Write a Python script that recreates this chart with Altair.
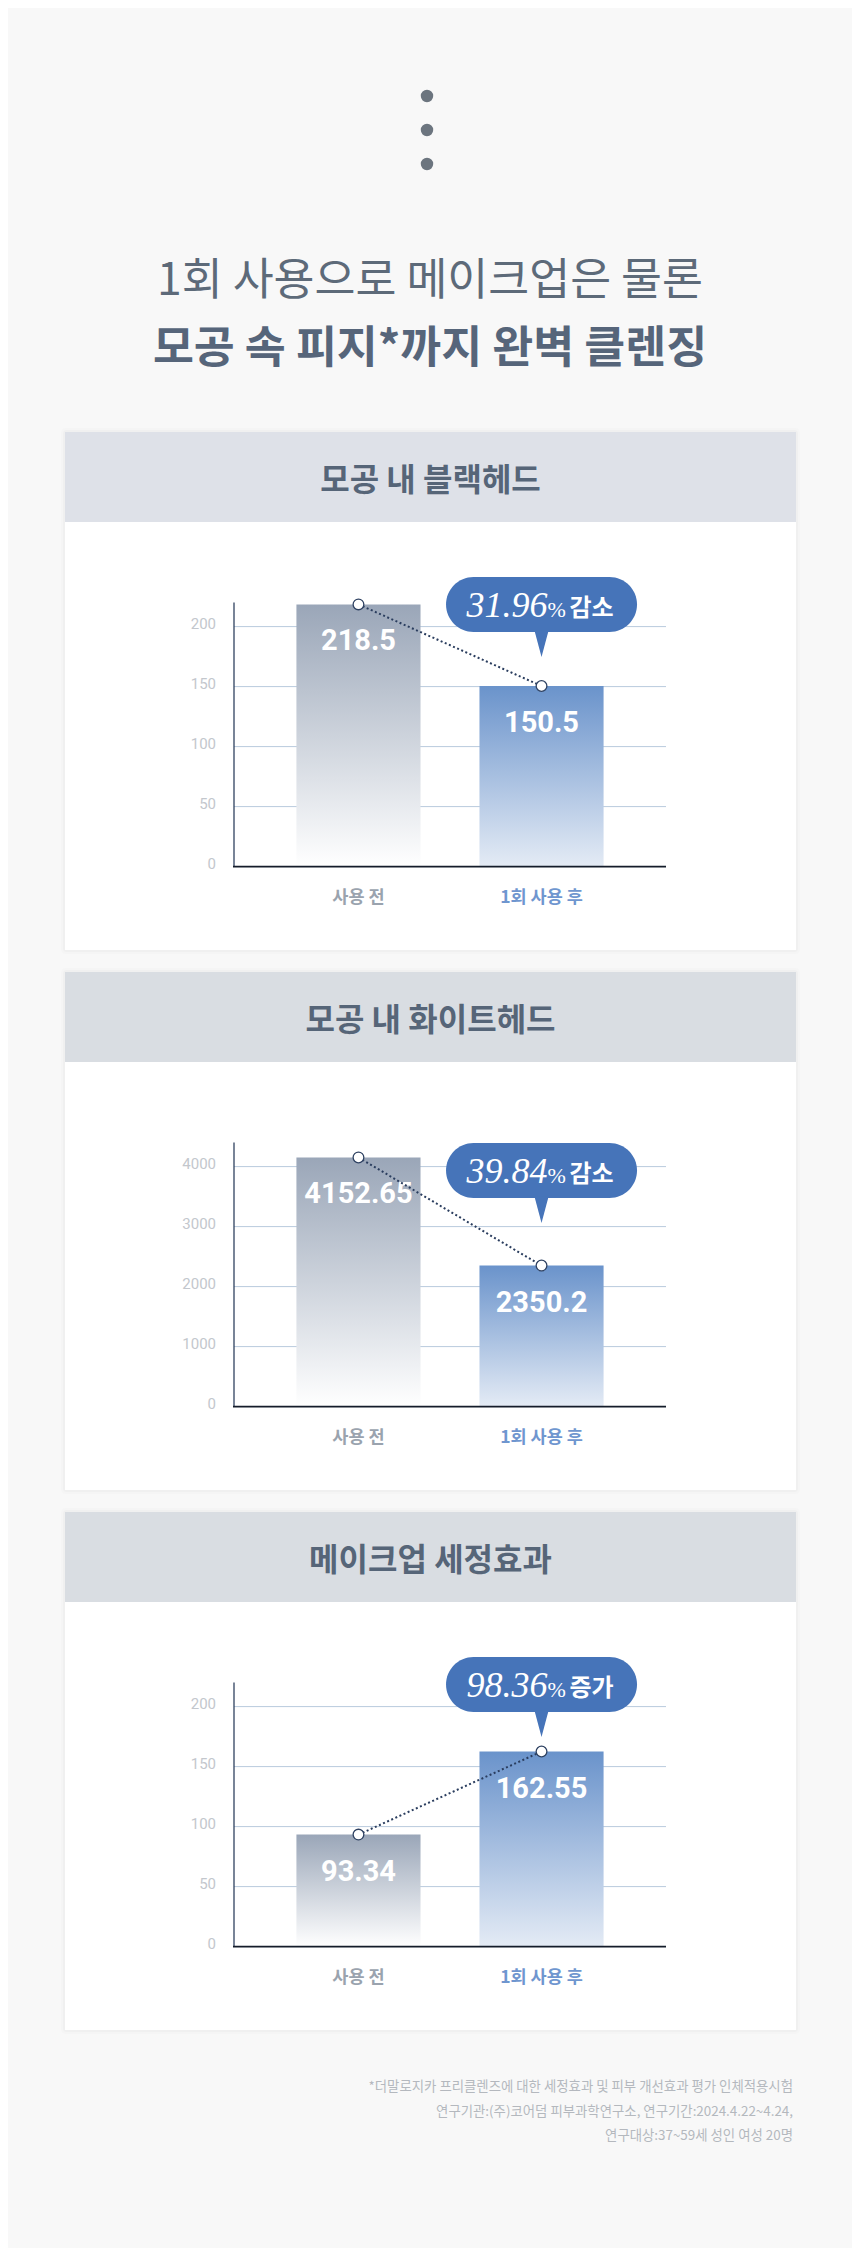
import altair as alt
import pandas as pd

# ---------------- data ----------------
stages = ["사용 전", "1회 사용 후"]
panel_titles = ["모공 내 블랙헤드", "모공 내 화이트헤드", "메이크업 세정효과"]
before_values = [218.5, 4152.65, 93.34]
after_values = [150.5, 2350.2, 162.55]
change_pct = ["31.96", "39.84", "98.36"]
change_word = ["감소", "감소", "증가"]
y_max = [220, 4400, 220]
y_ticks = [[0, 50, 100, 150, 200], [0, 1000, 2000, 3000, 4000], [0, 50, 100, 150, 200]]
title_lines = ["1회 사용으로 메이크업은 물론", "모공 속 피지*까지 완벽 클렌징"]
footnote_lines = [
    "*더말로지카 프리클렌즈에 대한 세정효과 및 피부 개선효과 평가 인체적용시험",
    "연구기관:(주)코어덤 피부과학연구소, 연구기간:2024.4.22~4.24,",
    "연구대상:37~59세 성인 여성 20명",
]

# ---------------- style / layout ----------------
W = 844
FONT = "Noto Sans CJK KR"
NUM_FONT = "Roboto"
SERIF = "Liberation Serif"
PAGE_BG = "#f8f8f8"
HEADER_BG = ["#dee1e8", "#d9dde2", "#d9dde2"]
BUBBLE_TOP = [145, 171, 145]
BUBBLE_H = 55
BUBBLE_W = 191
POINTER_H = 25
BLUE = "#4674b9"
PLOT_L, PLOT_R = 226, 658
PLOT_T, PLOT_B = 170.6, 434.6

one = alt.Data(values=[{}])


def deco_rect(x1, x2, y1, y2, color, opacity=1.0, radius=0):
    return alt.Chart(one).mark_rect(color=color, opacity=opacity, cornerRadius=radius).encode(
        x=alt.value(x1), x2=alt.value(x2), y=alt.value(y1), y2=alt.value(y2)
    )


def grad(top, bottom):
    return alt.LinearGradient(
        gradient="linear",
        stops=[alt.GradientStop(color=top, offset=0), alt.GradientStop(color=bottom, offset=1)],
        x1=0, x2=0, y1=0, y2=1,
    )


def make_panel(i):
    df = pd.DataFrame({"stage": stages, "value": [before_values[i], after_values[i]]})
    df["label"] = [str(v) for v in df["value"]]
    ticks = pd.DataFrame({"tick": y_ticks[i]})
    bub = pd.DataFrame({"stage": [stages[1]], "pct": [change_pct[i]], "word": [change_word[i]]})

    xs = alt.Scale(domain=stages, range=[PLOT_L, PLOT_R], paddingInner=0.322, paddingOuter=0.341)
    ys = alt.Scale(domain=[0, y_max[i]], range=[PLOT_B, PLOT_T], nice=False, zero=True)
    X = alt.X("stage:N", scale=xs, axis=None, sort=stages)
    Y = alt.Y("value:Q", scale=ys, axis=None)

    layers = []
    # shadow + panel
    layers.append(deco_rect(53, 792, -4, 522, "#000000", 0.012, 4))
    layers.append(deco_rect(55, 790, -2, 520, "#000000", 0.018, 3))
    layers.append(deco_rect(57, 788, 0, 518, "#ffffff"))
    layers.append(deco_rect(57, 788, 0, 90, HEADER_BG[i]))
    layers.append(
        alt.Chart(one).mark_text(font=FONT, fontSize=32, fontWeight="bold", color="#566578",
                                 align="center", baseline="middle", dy=2)
        .encode(x=alt.value(422.5), y=alt.value(46.5), text=alt.value(panel_titles[i]))
    )
    # gridlines
    layers.append(
        alt.Chart(ticks).transform_filter("datum.tick > 0").mark_rule(color="#b9cadd", strokeWidth=1)
        .encode(y=alt.Y("tick:Q", scale=ys, axis=None), x=alt.value(PLOT_L), x2=alt.value(PLOT_R))
    )
    # tick labels
    layers.append(
        alt.Chart(ticks).mark_text(font=NUM_FONT, fontSize=15, color="#c3c7cd", align="right",
                                   baseline="middle", dy=-3)
        .encode(y=alt.Y("tick:Q", scale=ys, axis=None), x=alt.value(208),
                text=alt.Text("tick:Q", format="d"))
    )
    # bars
    layers.append(
        alt.Chart(df[df.stage == stages[0]]).mark_bar(color=grad("#9aa6b8", "#ffffff"))
        .encode(x=X, y=Y)
    )
    layers.append(
        alt.Chart(df[df.stage == stages[1]]).mark_bar(color=grad("#6a93cb", "#e4ebf5"))
        .encode(x=X, y=Y)
    )
    # axis lines
    layers.append(
        alt.Chart(one).mark_rule(color="#1f3253", strokeWidth=1.2)
        .encode(x=alt.value(PLOT_L), y=alt.value(PLOT_T), y2=alt.value(PLOT_B))
    )
    layers.append(
        alt.Chart(one).mark_rule(color="#141c2a", strokeWidth=1.6)
        .encode(x=alt.value(PLOT_L - 1), x2=alt.value(PLOT_R), y=alt.value(PLOT_B))
    )
    # value labels
    layers.append(
        alt.Chart(df).mark_text(font=NUM_FONT, fontSize=29, fontWeight="bold", color="#ffffff",
                                baseline="middle", dy=37)
        .encode(x=X, y=Y, text="label:N")
    )
    # dotted connector + markers
    layers.append(
        alt.Chart(df).mark_line(color="#2a3d5e", strokeWidth=2, strokeDash=[2, 2.5])
        .encode(x=X, y=Y)
    )
    layers.append(
        alt.Chart(df).mark_point(shape="circle", filled=True, fill="#ffffff", stroke="#2f4262",
                                 strokeWidth=1.3, size=115, opacity=1)
        .encode(x=X, y=Y)
    )
    # bubble
    top = BUBBLE_TOP[i]
    layers.append(
        alt.Chart(bub).mark_bar(color=BLUE, width=BUBBLE_W, cornerRadius=27.5)
        .encode(x=X, y=alt.value(top), y2=alt.value(top + BUBBLE_H))
    )
    layers.append(
        alt.Chart(bub).mark_point(shape="M-0.56,-1.1L0.56,-1.1L0,1Z", filled=True, color=BLUE,
                                  size=POINTER_H * POINTER_H, opacity=1)
        .encode(x=X, y=alt.value(top + BUBBLE_H + POINTER_H / 2))
    )
    base = top + 40
    layers.append(
        alt.Chart(bub).mark_text(font=SERIF, fontStyle="italic", fontSize=36, color="#ffffff",
                                 align="right", baseline="alphabetic", dx=6)
        .encode(x=X, y=alt.value(base), text="pct:N")
    )
    layers.append(
        alt.Chart(bub).mark_text(font=SERIF, fontSize=22, color="#ffffff",
                                 align="left", baseline="alphabetic", dx=6)
        .encode(x=X, y=alt.value(base), text=alt.value("%"))
    )
    layers.append(
        alt.Chart(bub).mark_text(font=FONT, fontSize=24, fontWeight="bold", color="#ffffff",
                                 align="left", baseline="alphabetic", dx=28)
        .encode(x=X, y=alt.value(base - 1.5), text="word:N")
    )
    # x labels
    layers.append(
        alt.Chart(df).mark_text(font=FONT, fontSize=17.5, fontWeight="bold", baseline="middle", dy=1)
        .encode(
            x=X, y=alt.value(465), text="stage:N",
            color=alt.Color("stage:N", scale=alt.Scale(domain=stages, range=["#9aa3ae", "#6f96cf"]),
                            legend=None),
        )
    )
    return alt.layer(*layers).properties(width=W, height=540)


# ---------------- title block ----------------
title_layers = [deco_rect(0, W, 0, 424, PAGE_BG)]
for cy in [88, 122, 156]:
    title_layers.append(
        alt.Chart(one).mark_circle(color="#6c757f", size=154, opacity=1)
        .encode(x=alt.value(419), y=alt.value(cy))
    )
title_layers.append(
    alt.Chart(one).mark_text(font=FONT, fontSize=44.5, color="#5d6a79", align="center",
                             baseline="middle", dy=2)
    .encode(x=alt.value(422), y=alt.value(272), text=alt.value(title_lines[0]))
)
title_layers.append(
    alt.Chart(one).mark_text(font=FONT, fontSize=44.5, fontWeight="bold", color="#56657a",
                             align="center", baseline="middle", dy=2)
    .encode(x=alt.value(422), y=alt.value(340), text=alt.value(title_lines[1]))
)
title_chart = alt.layer(*title_layers).properties(width=W, height=424)

# ---------------- footnote ----------------
foot_layers = [deco_rect(0, W, 0, 196, PAGE_BG)]
for k, line in enumerate(footnote_lines):
    foot_layers.append(
        alt.Chart(one).mark_text(font=FONT, fontSize=13.4, color="#b4b8be", align="right",
                                 baseline="middle")
        .encode(x=alt.value(785), y=alt.value(35 + 24.5 * k), text=alt.value(line))
    )
foot_chart = alt.layer(*foot_layers).properties(width=W, height=196)

chart = (
    alt.vconcat(title_chart, make_panel(0), make_panel(1), make_panel(2), foot_chart,
                spacing=0, bounds="flush")
    .resolve_scale(x="independent", y="independent", color="independent")
    .properties(padding=0)
    .configure(background=PAGE_BG)
    .configure_view(stroke=None)
)

chart.save("out.html", embed_options={"renderer": "svg", "actions": False})
